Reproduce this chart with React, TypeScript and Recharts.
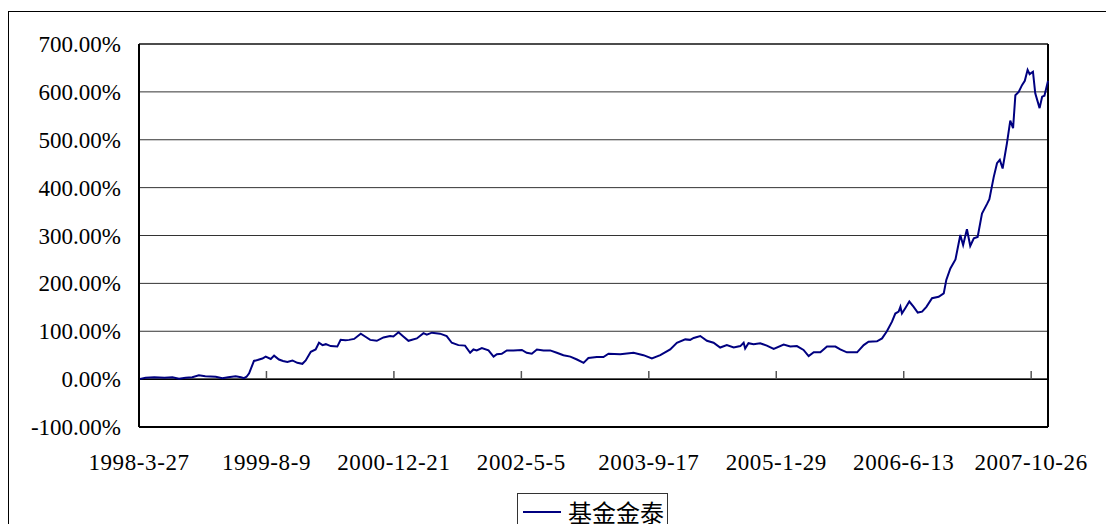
import React from 'react';
import { LineChart, Line, XAxis, YAxis, CartesianGrid, ReferenceLine, Legend } from 'recharts';

// Day offsets from 1998-3-27 (Excel date axis, 500-day major unit)
const days: number[] = [
  0, 26, 60, 100, 131, 157, 183, 209, 235, 260, 301, 327, 350, 379, 400, 412, 422, 432, 451, 465,
  484, 497, 517, 530, 549, 565, 582, 602, 621, 641, 654, 674, 693, 706, 720, 733, 752, 778, 791, 810,
  824, 844, 870, 890, 907, 933, 959, 985, 998, 1018, 1037, 1057, 1090, 1116, 1129, 1149, 1181, 1207, 1227, 1253,
  1279, 1299, 1312, 1325, 1345, 1371, 1391, 1404, 1423, 1443, 1469, 1502, 1521, 1541, 1561, 1587, 1613, 1639, 1665, 1692,
  1718, 1744, 1763, 1796, 1822, 1842, 1888, 1940, 1979, 2012, 2045, 2084, 2110, 2143, 2162, 2176, 2202, 2228, 2254, 2280,
  2306, 2333, 2359, 2372, 2378, 2391, 2411, 2437, 2463, 2490, 2529, 2555, 2581, 2607, 2627, 2647, 2673, 2699, 2732, 2751,
  2777, 2817, 2843, 2862, 2895, 2915, 2934, 2954, 2967, 2980, 2987, 2993, 3006, 3022, 3039, 3055, 3072, 3089, 3111, 3137,
  3157, 3167, 3183, 3203, 3222, 3233, 3248, 3261, 3275, 3290, 3307, 3327, 3336, 3353, 3366, 3377, 3388, 3405, 3418, 3429,
  3438, 3451, 3464, 3475, 3486, 3494, 3507, 3516, 3533, 3543, 3552, 3566,
];

// Cumulative return (%) of 基金金泰
const returns: number[] = [
  0, 3, 4, 3, 4, 1, 3, 4, 8, 6, 5, 2, 4, 6, 4, 2, 5, 12, 38, 40,
  43, 47, 42, 49, 41, 38, 36, 39, 34, 32, 39, 57, 62, 76, 71, 73, 69, 68, 82, 81,
  82, 84, 95, 88, 82, 80, 87, 90, 89, 98, 89, 80, 85, 96, 93, 97, 95, 90, 76, 71,
  70, 55, 62, 60, 65, 60, 47, 52, 53, 60, 60, 61, 55, 53, 62, 60, 60, 55, 50, 47,
  41, 34, 44, 46, 46, 53, 52, 55, 50, 43, 50, 62, 76, 83, 82, 86, 90, 80, 76, 66,
  71, 66, 69, 76, 64, 75, 73, 75, 70, 63, 72, 68, 69, 61, 48, 56, 56, 68, 68, 62,
  56, 56, 71, 78, 79, 85, 100, 120, 137, 141, 151, 137, 148, 162, 151, 139, 141, 151, 169, 172,
  179, 207, 231, 250, 301, 280, 313, 278, 294, 297, 346, 366, 376, 422, 451, 458, 440, 493, 540, 524,
  593, 600, 614, 623, 646, 637, 642, 597, 566, 590, 592, 623,
];

const seriesName = '基金金泰';

const xTickDays: number[] = [0, 500, 1000, 1500, 2000, 2500, 3000, 3500];
const xTickLabels: string[] = [
  '1998-3-27', '1999-8-9', '2000-12-21', '2002-5-5', '2003-9-17', '2005-1-29', '2006-6-13', '2007-10-26',
];
const yTicks: number[] = [-100, 0, 100, 200, 300, 400, 500, 600, 700];

const data = days.map((d, i) => ({ day: d, value: returns[i] }));
const lastDay = days[days.length - 1];

const LINE_COLOR = '#000080';
const TICK_MARK_LEN = 17; // in % units (~8px)
const SERIF = "'Liberation Serif', serif";
const FONT_SIZE = 23;

const XTick = (props: any) => {
  const { x, y, payload } = props;
  return (
    <text
      x={x}
      y={y + 43}
      textAnchor="middle"
      style={{ fontFamily: SERIF, fontSize: FONT_SIZE, fill: '#000', letterSpacing: 0.6 }}
    >
      {xTickLabels[xTickDays.indexOf(payload.value)] ?? ''}
    </text>
  );
};

const YTick = (props: any) => {
  const { x, y, payload } = props;
  return (
    <text
      x={x}
      y={y + 8}
      textAnchor="end"
      style={{ fontFamily: SERIF, fontSize: FONT_SIZE, fill: '#000' }}
    >
      {`${payload.value}.00%`}
    </text>
  );
};

const renderLegend = () => (
  <div
    style={{
      border: '1px solid #333',
      boxSizing: 'border-box',
      width: 151,
      height: 40,
      display: 'flex',
      alignItems: 'flex-start',
      paddingTop: 4,
      paddingLeft: 4,
      background: '#fff',
    }}
  >
    <svg width={40} height={28} style={{ display: 'block' }}>
      <line x1={1} y1={14} x2={39} y2={14} stroke={LINE_COLOR} strokeWidth={2} />
    </svg>
    <span
      style={{
        fontFamily: "'Noto Sans CJK SC', sans-serif",
        fontSize: 24,
        lineHeight: '28px',
        marginLeft: 6,
        color: '#000',
      }}
    >
      {seriesName}
    </span>
  </div>
);

export default function App() {
  return (
    <div
      style={{
        position: 'relative',
        top: 3,
        width: 1106,
        height: 516,
        borderLeft: '1px solid #000',
        borderTop: '1px solid #000',
        boxSizing: 'border-box',
        background: '#fff',
      }}
    >
      <LineChart
        width={1105}
        height={515}
        data={data}
        margin={{ top: 32, right: 66, bottom: 40, left: 0 }}
      >
        <CartesianGrid horizontal vertical={false} stroke="#333" strokeWidth={1} />
        <XAxis
          dataKey="day"
          type="number"
          domain={['dataMin', 'dataMax']}
          ticks={xTickDays}
          axisLine={false}
          tickLine={false}
          tickSize={0}
          tickMargin={0}
          height={60}
          tick={<XTick />}
          interval={0}
        />
        <YAxis
          type="number"
          domain={[-100, 700]}
          ticks={yTicks}
          axisLine={{ stroke: '#000', strokeWidth: 2 }}
          tickLine={false}
          tickSize={0}
          tickMargin={18}
          width={130}
          tick={<YTick />}
          interval={0}
        />
        <ReferenceLine y={700} stroke="#333" strokeWidth={1.5} />
        <ReferenceLine y={-100} stroke="#000" strokeWidth={2} />
        <ReferenceLine x={lastDay} stroke="#000" strokeWidth={2} />
        <ReferenceLine y={0} stroke="#000" strokeWidth={1.5} />
        {xTickDays.filter((d) => d > 0).map((d) => (
          <ReferenceLine
            key={d}
            segment={[{ x: d, y: 0 }, { x: d, y: TICK_MARK_LEN }]}
            stroke="#555"
            strokeWidth={1.5}
          />
        ))}
        <Line
          type="linear"
          dataKey="value"
          name={seriesName}
          stroke={LINE_COLOR}
          strokeWidth={2}
          dot={false}
          isAnimationActive={false}
        />
        <Legend
          layout="horizontal"
          verticalAlign="middle"
          align="center"
          content={renderLegend}
          wrapperStyle={{ left: 508, top: 481, width: 151, height: 40 }}
        />
      </LineChart>
    </div>
  );
}
